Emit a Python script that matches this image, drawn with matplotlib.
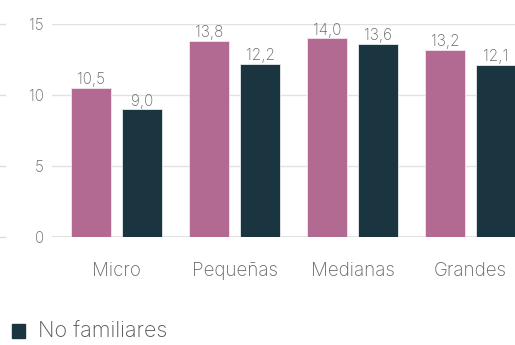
import matplotlib
matplotlib.use('Agg')
import matplotlib.pyplot as plt
import numpy as np
from matplotlib.patches import Rectangle

categories = ['Micro', 'Pequeñas', 'Medianas', 'Grandes']
familiares = [10.5, 13.8, 14.0, 13.2]
no_familiares = [9.0, 12.2, 13.6, 12.1]
yticks = [0, 5, 10, 15]

pink = '#b36a92'
dark = '#1b3540'
txt = '#666666'

plt.rcParams['font.family'] = ['Inter', 'DejaVu Sans']
plt.rcParams['font.weight'] = 'light'

fig = plt.figure(figsize=(5.15, 3.45), dpi=100)
W, H = 515, 345
# axes: left at px 52, right beyond the edge, y from px 237 (0) to 24 (15)
ax = fig.add_axes([52 / W, (H - 237) / H, (W - 52) / W, 213 / H])

x = np.arange(len(categories))
width = 0.34
off = 0.216
b1 = ax.bar(x - off, familiares, width, color=pink, edgecolor='#f0e6ec', linewidth=0.6, zorder=3)
b2 = ax.bar(x + off, no_familiares, width, color=dark, edgecolor='#e6ecee', linewidth=0.6, zorder=3)

for bars in (b1, b2):
    for bar in bars:
        h = bar.get_height()
        ax.annotate(f'{h:.1f}'.replace('.', ','),
                    xy=(bar.get_x() + bar.get_width() / 2, h),
                    xytext=(0, 0.5), textcoords='offset points',
                    ha='center', va='bottom', fontsize=11, color=txt)

ax.set_xlim(-0.547, 3.377)
ax.set_ylim(0, 15)
ax.set_yticks(yticks)
ax.set_xticks(x)
ax.set_xticklabels(categories, fontsize=13.5, color=txt)
ax.tick_params(axis='x', length=0, pad=18)
ax.tick_params(axis='y', length=0, pad=6, labelsize=11, labelcolor=txt)
for s in ax.spines.values():
    s.set_visible(False)
ax.grid(axis='y', color='#e2e2e2', linewidth=1, zorder=0)
ax.axhline(0, color='#dddddd', linewidth=1.2, zorder=2)
ax.set_axisbelow(True)

# short stubs of the grid at the left edge of the picture
for v in yticks:
    ax.plot([-52 / 463, -47 / 463], [v, v], transform=ax.get_yaxis_transform(),
            color='#dddddd', linewidth=1, clip_on=False)

# legend entry (only the lower one is visible)
fig.patches.append(Rectangle((12 / W, (H - 338) / H), 13 / W, 14 / H,
                             transform=fig.transFigure, color=dark))
fig.text(38 / W, (H - 331) / H, 'No familiares', fontsize=15.5, color='#555555',
         va='center', ha='left')

fig.savefig('out.png', dpi=100)
